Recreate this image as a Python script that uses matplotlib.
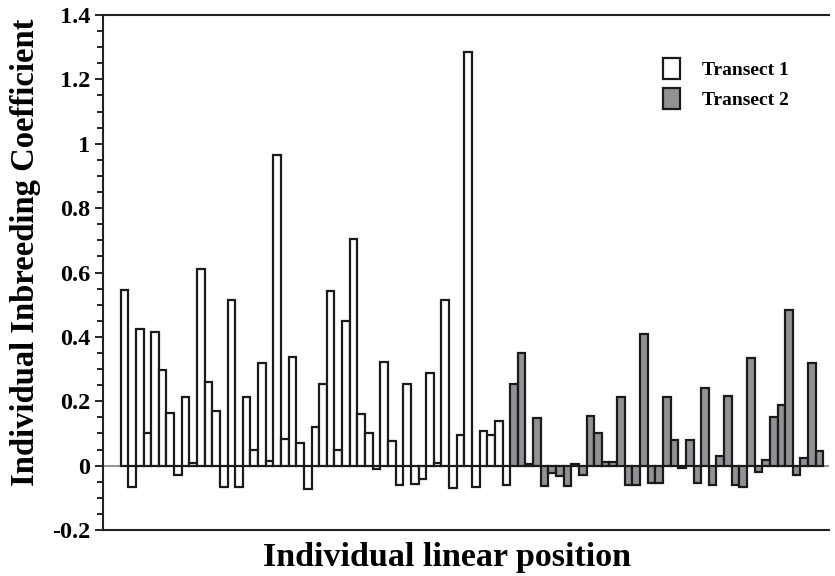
import matplotlib
matplotlib.use("Agg")
import matplotlib.pyplot as plt
from matplotlib.ticker import MultipleLocator
from matplotlib.patches import Patch
import numpy as np

transect1 = [0.545, -0.067, 0.426, 0.10, 0.415, 0.296, 0.165, -0.03, 0.212, 0.008,
             0.61, 0.26, 0.17, -0.067, 0.515, -0.067, 0.212, 0.047, 0.32, 0.015,
             0.965, 0.082, 0.337, 0.07, -0.072, 0.119, 0.254, 0.544, 0.047, 0.45,
             0.704, 0.159, 0.10, -0.012, 0.323, 0.077, -0.06, 0.253, -0.056, -0.043,
             0.289, 0.008, 0.515, -0.071, 0.094, 1.285, -0.065, 0.106, 0.094, 0.14,
             -0.06]
transect2 = [0.253, 0.349, 0.005, 0.147, -0.064, -0.022, -0.033, -0.064, 0.006, -0.03,
             0.153, 0.10, 0.011, 0.011, 0.212, -0.06, -0.061, 0.408, -0.054, -0.055,
             0.212, 0.08, -0.008, 0.08, -0.055, 0.24, -0.06, 0.029, 0.217, -0.06,
             -0.067, 0.335, -0.02, 0.016, 0.152, 0.188, 0.483, -0.03, 0.023, 0.318,
             0.045]
labels = ["Transect 1", "Transect 2"]
yticks = [-0.2, 0, 0.2, 0.4, 0.6, 0.8, 1.0, 1.2, 1.4]
yticklabels = ["-0.2", "0", "0.2", "0.4", "0.6", "0.8", "1", "1.2", "1.4"]

plt.rcParams['font.family'] = ['Liberation Serif', 'DejaVu Serif']
plt.rcParams['font.weight'] = 'bold'

fig = plt.figure(figsize=(8.35, 5.76), dpi=100)
ax = fig.add_axes([0.1234, 0.0799, 0.870, 0.894])

edge = '#1a1a1a'
gray = '#909295'
x1 = np.arange(len(transect1))
x2 = np.arange(len(transect1), len(transect1) + len(transect2))

ax.axhline(0, color='#8a8a8a', lw=1.3, zorder=1)
ax.bar(x1, transect1, width=1.0, color='white', edgecolor=edge, linewidth=1.6, zorder=2)
ax.bar(x2, transect2, width=1.0, color=gray, edgecolor=edge, linewidth=1.6, zorder=2)

ax.set_xlim(-2.8, 92.3)
ax.set_ylim(-0.2, 1.4)
ax.set_yticks(yticks)
ax.set_yticklabels(yticklabels)
ax.yaxis.set_minor_locator(MultipleLocator(0.05))
ax.tick_params(axis='y', which='major', direction='out', length=6, width=1.2,
               labelsize=17.5, pad=3)
ax.tick_params(axis='y', which='minor', direction='out', length=4, width=1.2)
ax.set_xticks([])
for lab in ax.get_yticklabels():
    lab.set_fontweight('bold')

for s in ['left', 'top', 'bottom']:
    ax.spines[s].set_linewidth(1.5)
    ax.spines[s].set_color('#222222')
ax.spines['right'].set_visible(False)

ax.set_ylabel("Individual Inbreeding Coefficient", fontsize=23.5, fontweight='bold',
              labelpad=8, y=0.54)
ax.set_xlabel("Individual linear position", fontsize=24.5, fontweight='bold',
              labelpad=9, x=0.473)

handles = [Patch(facecolor='white', edgecolor=edge, linewidth=1.6),
           Patch(facecolor=gray, edgecolor=edge, linewidth=1.6)]
ax.legend(handles, labels, loc='upper right', bbox_to_anchor=(0.968, 0.95),
          frameon=False, handlelength=0.85, handleheight=1.3,
          handletextpad=1.15, labelspacing=0.45, prop={'weight': 'bold', 'size': 14})

fig.savefig("out.png", dpi=100)
